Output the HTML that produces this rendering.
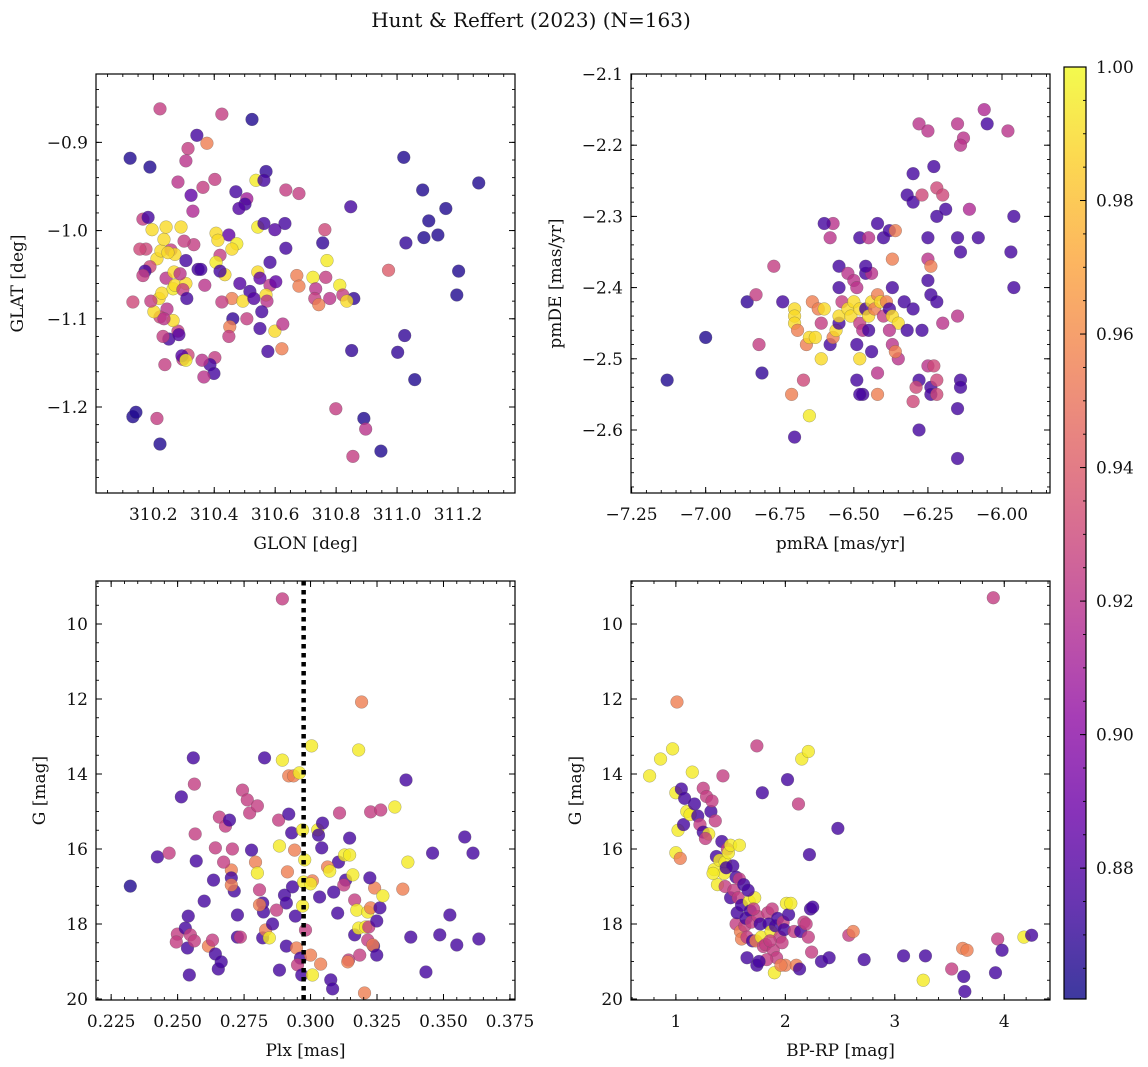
<!DOCTYPE html>
<html><head><meta charset="utf-8"><style>
html,body{margin:0;padding:0;background:#fff;}
svg{display:block;font-family:"DejaVu Serif","Liberation Serif",serif;}
</style></head><body>
<svg id="fig" width="1148" height="1067" viewBox="0 0 1148 1067" xmlns="http://www.w3.org/2000/svg">
<text x="531" y="27" text-anchor="middle" font-size="20" fill="#111">Hunt &amp; Reffert (2023) (N=163)</text>
</svg>
<script>
// ---- Panel 1: GLON vs GLAT ----
const p1x=[310.124,310.222,310.425,310.524,310.376,310.314,310.343,310.189,310.307,310.402,310.363,310.330,310.281,310.324,310.471,310.537,310.507,310.501,310.570,310.563,310.635,310.678,310.756,310.848,310.763,310.632,310.635,310.543,310.563,310.599,310.481,310.448,310.406,310.412,310.474,310.458,310.419,310.435,310.458,310.461,310.507,310.484,310.517,310.494,310.530,310.543,310.550,310.583,310.583,310.602,310.671,310.678,310.724,310.770,310.766,310.812,310.822,310.858,310.835,310.733,310.730,310.743,310.779,310.570,310.573,310.599,310.622,310.550,310.576,310.625,310.556,310.451,310.448,310.402,310.386,310.399,310.360,310.366,310.314,310.297,310.281,310.265,310.245,310.251,310.284,310.294,310.307,310.219,310.228,310.265,310.242,310.268,310.271,310.307,310.297,310.310,310.288,310.222,310.202,310.235,310.232,310.192,310.212,310.189,310.176,310.156,310.225,310.258,310.271,310.196,310.235,310.248,310.173,310.166,310.242,310.291,310.333,310.301,310.347,310.356,310.307,310.369,310.406,310.419,310.425,310.238,310.166,310.183,310.133,310.133,310.143,310.212,310.222,310.799,310.851,310.855,310.891,310.897,310.947,311.002,311.025,310.972,311.029,311.088,311.104,311.134,311.160,311.196,311.202,311.022,311.084,311.268,311.058];
const p1y=[-0.918,-0.862,-0.868,-0.874,-0.901,-0.907,-0.892,-0.928,-0.921,-0.942,-0.951,-0.978,-0.945,-0.960,-0.956,-0.943,-0.964,-0.970,-0.933,-0.943,-0.954,-0.958,-1.014,-0.973,-0.999,-0.992,-1.020,-0.996,-0.992,-0.999,-0.975,-1.005,-1.003,-1.011,-1.015,-1.021,-1.028,-1.050,-1.077,-1.100,-1.100,-1.060,-1.069,-1.080,-1.077,-1.047,-1.054,-1.036,-1.062,-1.058,-1.051,-1.063,-1.053,-1.034,-1.053,-1.062,-1.073,-1.077,-1.080,-1.066,-1.077,-1.084,-1.077,-1.073,-1.080,-1.114,-1.134,-1.111,-1.137,-1.106,-1.092,-1.109,-1.120,-1.144,-1.152,-1.162,-1.147,-1.166,-1.141,-1.146,-1.114,-1.102,-1.089,-1.123,-1.118,-1.142,-1.147,-1.077,-1.071,-1.066,-1.054,-1.047,-1.062,-1.060,-1.067,-1.077,-1.049,-1.098,-1.092,-1.100,-1.120,-1.080,-1.032,-1.041,-1.021,-1.021,-1.023,-1.022,-1.027,-0.999,-1.010,-1.025,-1.046,-1.051,-0.996,-0.996,-1.016,-1.012,-1.044,-1.044,-1.034,-1.062,-1.036,-1.046,-1.081,-1.152,-0.987,-0.985,-1.081,-1.211,-1.206,-1.213,-1.242,-1.202,-1.136,-1.256,-1.213,-1.225,-1.250,-1.138,-1.119,-1.045,-1.014,-1.008,-0.989,-1.005,-0.975,-1.073,-1.046,-0.917,-0.954,-0.946,-1.169];
const p1c=[0.865,0.925,0.925,0.865,0.955,0.925,0.875,0.865,0.92,0.925,0.925,0.915,0.92,0.885,0.875,0.995,0.91,0.875,0.87,0.875,0.925,0.925,0.87,0.875,0.93,0.875,0.875,0.995,0.875,0.88,0.88,0.885,0.99,0.99,0.995,0.99,0.925,0.99,0.955,0.87,0.925,0.88,0.875,0.99,0.88,0.99,0.885,0.875,0.92,0.885,0.955,0.955,0.995,0.995,0.925,0.995,0.925,0.87,0.99,0.92,0.925,0.955,0.92,0.99,0.92,0.99,0.955,0.875,0.875,0.92,0.875,0.955,0.925,0.925,0.875,0.875,0.92,0.92,0.93,0.925,0.925,0.99,0.92,0.875,0.88,0.88,0.995,0.99,0.99,0.995,0.92,0.99,0.99,0.99,0.925,0.875,0.92,0.93,0.99,0.92,0.925,0.925,0.99,0.93,0.93,0.93,0.99,0.925,0.99,0.99,0.99,0.99,0.875,0.925,0.99,0.99,0.925,0.925,0.875,0.875,0.875,0.92,0.995,0.875,0.925,0.925,0.925,0.875,0.93,0.865,0.865,0.925,0.865,0.925,0.87,0.925,0.865,0.92,0.865,0.87,0.87,0.94,0.87,0.865,0.865,0.865,0.865,0.865,0.865,0.865,0.865,0.865,0.865];
const p1xTicks=[310.2,310.4,310.6,310.8,311.0,311.2];
const p1xLabels=["310.2","310.4","310.6","310.8","311.0","311.2"];
const p1yTicks=[-0.9,-1.0,-1.1,-1.2];
const p1yLabels=["\u22120.9","\u22121.0","\u22121.1","\u22121.2"];

// ---- Panel 2: pmRA vs pmDE ----
const p2x=[-7.13,-7.00,-6.86,-6.83,-6.82,-6.81,-6.77,-6.74,-6.71,-6.70,-6.65,-6.67,-6.70,-6.70,-6.70,-6.69,-6.66,-6.65,-6.63,-6.64,-6.62,-6.61,-6.60,-6.61,-6.58,-6.57,-6.56,-6.55,-6.55,-6.54,-6.52,-6.51,-6.50,-6.48,-6.48,-6.46,-6.45,-6.44,-6.43,-6.42,-6.41,-6.40,-6.39,-6.38,-6.37,-6.37,-6.35,-6.58,-6.57,-6.55,-6.55,-6.52,-6.50,-6.49,-6.46,-6.44,-6.46,-6.49,-6.48,-6.47,-6.45,-6.44,-6.42,-6.49,-6.47,-6.42,-6.37,-6.35,-6.36,-6.38,-6.37,-6.48,-6.45,-6.42,-6.40,-6.38,-6.36,-6.32,-6.30,-6.30,-6.28,-6.27,-6.25,-6.25,-6.24,-6.25,-6.24,-6.22,-6.32,-6.28,-6.30,-6.29,-6.25,-6.23,-6.24,-6.22,-6.24,-6.22,-6.28,-6.25,-6.23,-6.22,-6.20,-6.22,-6.19,-6.20,-6.15,-6.13,-6.14,-6.11,-6.06,-6.05,-5.98,-5.96,-5.97,-5.96,-6.08,-6.15,-6.14,-6.15,-6.14,-6.14,-6.15,-6.15,-6.27,-6.30,-6.33,-6.48,-6.60];
const p2y=[-2.53,-2.47,-2.42,-2.41,-2.48,-2.52,-2.37,-2.42,-2.55,-2.61,-2.58,-2.53,-2.43,-2.44,-2.45,-2.46,-2.48,-2.47,-2.47,-2.42,-2.43,-2.45,-2.43,-2.50,-2.48,-2.47,-2.46,-2.45,-2.44,-2.42,-2.43,-2.44,-2.42,-2.43,-2.45,-2.43,-2.44,-2.42,-2.43,-2.41,-2.42,-2.44,-2.42,-2.43,-2.44,-2.40,-2.45,-2.33,-2.31,-2.37,-2.40,-2.38,-2.39,-2.40,-2.38,-2.38,-2.37,-2.48,-2.50,-2.46,-2.46,-2.49,-2.52,-2.53,-2.55,-2.55,-2.48,-2.50,-2.49,-2.46,-2.36,-2.33,-2.33,-2.31,-2.33,-2.32,-2.32,-2.27,-2.24,-2.28,-2.17,-2.27,-2.33,-2.36,-2.37,-2.39,-2.41,-2.42,-2.46,-2.53,-2.56,-2.54,-2.51,-2.51,-2.54,-2.53,-2.55,-2.55,-2.60,-2.18,-2.23,-2.26,-2.27,-2.30,-2.29,-2.45,-2.17,-2.19,-2.20,-2.29,-2.15,-2.17,-2.18,-2.30,-2.35,-2.40,-2.33,-2.33,-2.35,-2.44,-2.53,-2.54,-2.57,-2.64,-2.46,-2.43,-2.42,-2.55,-2.31];
const p2c=[0.865,0.865,0.87,0.925,0.925,0.87,0.925,0.875,0.955,0.875,0.995,0.93,0.99,0.99,0.99,0.955,0.955,0.99,0.99,0.955,0.955,0.925,0.99,0.99,0.875,0.955,0.99,0.875,0.99,0.925,0.99,0.99,0.99,0.99,0.925,0.875,0.99,0.99,0.955,0.955,0.99,0.925,0.955,0.875,0.99,0.875,0.99,0.92,0.92,0.875,0.875,0.92,0.92,0.92,0.875,0.92,0.875,0.875,0.99,0.92,0.875,0.875,0.92,0.875,0.875,0.955,0.92,0.92,0.955,0.92,0.955,0.875,0.92,0.875,0.875,0.875,0.955,0.875,0.875,0.875,0.92,0.93,0.875,0.92,0.955,0.875,0.875,0.875,0.875,0.875,0.93,0.93,0.92,0.93,0.875,0.93,0.875,0.93,0.875,0.92,0.875,0.93,0.93,0.875,0.875,0.92,0.92,0.92,0.92,0.915,0.915,0.875,0.92,0.875,0.875,0.875,0.875,0.875,0.875,0.92,0.875,0.875,0.875,0.875,0.875,0.875,0.875,0.875,0.875];
const p2xTicks=[-7.25,-7.00,-6.75,-6.50,-6.25,-6.00];
const p2xLabels=["\u22127.25","\u22127.00","\u22126.75","\u22126.50","\u22126.25","\u22126.00"];
const p2yTicks=[-2.1,-2.2,-2.3,-2.4,-2.5,-2.6];
const p2yLabels=["\u22122.1","\u22122.2","\u22122.3","\u22122.4","\u22122.5","\u22122.6"];

// ---- Panel 3: Plx vs G ----
const p3x=[0.2322,0.2424,0.2468,0.2514,0.2559,0.2563,0.2499,0.2495,0.2540,0.2529,0.2548,0.2537,0.2563,0.2544,0.2566,0.2570,0.2600,0.2616,0.2631,0.2642,0.2653,0.2664,0.2635,0.2642,0.2657,0.2680,0.2695,0.2706,0.2702,0.2702,0.2713,0.2725,0.2725,0.2736,0.2744,0.2762,0.2771,0.2800,0.2778,0.2793,0.2800,0.2808,0.2820,0.2823,0.2820,0.2831,0.2845,0.2857,0.2827,0.2894,0.2918,0.2936,0.2958,0.3004,0.3192,0.3181,0.2880,0.2918,0.2929,0.2883,0.2940,0.2913,0.2932,0.2902,0.2909,0.2943,0.2909,0.2883,0.2947,0.2962,0.2951,0.2967,0.2981,0.2970,0.2974,0.2978,0.2970,0.3027,0.3030,0.3007,0.3000,0.3034,0.3000,0.3007,0.3038,0.3076,0.3083,0.3105,0.3128,0.3132,0.3147,0.3125,0.3147,0.3159,0.3102,0.3166,0.3174,0.3166,0.3181,0.3207,0.3185,0.3143,0.3140,0.3203,0.3215,0.3226,0.3219,0.3237,0.3215,0.3234,0.3241,0.3249,0.3249,0.3261,0.3272,0.3223,0.3226,0.3264,0.3317,0.3359,0.3366,0.3347,0.3377,0.3434,0.3459,0.3486,0.3524,0.3550,0.3580,0.3611,0.3633,0.3109,0.3045,0.3042,0.3064,0.3072,0.3087,0.2673,0.2808,0.2872,0.2702,0.2894];
const p3y=[16.99,16.21,16.11,14.61,13.57,14.27,18.27,18.48,17.79,18.11,18.29,18.64,18.45,19.36,15.60,16.32,17.39,18.59,18.43,18.80,19.20,19.01,16.83,15.97,15.15,15.39,15.23,16.00,16.56,16.77,17.12,17.76,18.35,18.35,14.43,14.69,15.04,14.85,16.03,16.35,16.64,17.09,17.44,17.68,18.37,18.16,18.37,18.00,13.57,13.63,14.05,14.05,13.97,13.25,12.08,13.36,15.23,15.07,15.57,15.92,16.03,16.61,17.01,17.23,17.44,17.79,18.59,19.23,18.64,18.91,19.09,19.36,18.16,17.52,16.88,16.29,15.49,15.49,15.63,16.85,16.93,17.28,18.83,19.36,19.07,19.49,19.73,16.35,16.16,16.83,15.71,16.96,16.16,16.69,17.71,17.36,17.63,18.29,18.11,18.08,18.83,18.96,19.01,19.84,17.68,17.57,18.08,18.59,18.43,18.56,17.04,17.92,18.83,17.57,17.25,16.77,15.01,14.96,14.88,14.16,16.35,17.07,18.35,19.28,16.11,18.29,17.76,18.56,15.68,16.11,18.40,15.04,15.31,15.97,16.48,16.59,17.15,16.35,17.49,17.63,16.96,9.33];
const p3c=[0.865,0.875,0.925,0.875,0.875,0.925,0.925,0.925,0.875,0.875,0.925,0.875,0.925,0.875,0.925,0.875,0.875,0.955,0.925,0.875,0.875,0.875,0.875,0.925,0.925,0.925,0.875,0.925,0.955,0.875,0.875,0.875,0.875,0.925,0.925,0.925,0.925,0.925,0.875,0.955,0.995,0.925,0.875,0.875,0.875,0.955,0.995,0.875,0.875,0.995,0.955,0.955,0.995,0.995,0.955,0.995,0.925,0.875,0.875,0.995,0.955,0.955,0.875,0.875,0.875,0.875,0.875,0.875,0.955,0.875,0.925,0.875,0.925,0.995,0.995,0.995,0.995,0.995,0.875,0.955,0.995,0.875,0.955,0.995,0.955,0.875,0.875,0.875,0.995,0.875,0.875,0.925,0.995,0.995,0.875,0.925,0.995,0.875,0.995,0.995,0.925,0.925,0.955,0.955,0.995,0.955,0.925,0.875,0.925,0.955,0.955,0.875,0.875,0.875,0.995,0.875,0.925,0.925,0.995,0.875,0.995,0.955,0.875,0.875,0.875,0.875,0.875,0.875,0.875,0.875,0.875,0.925,0.875,0.875,0.955,0.995,0.875,0.925,0.955,0.925,0.955,0.925];
const p3xTicks=[0.225,0.250,0.275,0.300,0.325,0.350,0.375];
const p3xLabels=["0.225","0.250","0.275","0.300","0.325","0.350","0.375"];
const p3yTicks=[10,12,14,16,18,20];
const p3yLabels=["10","12","14","16","18","20"];
const p3vline=[0.2974];

// ---- Panel 4: BP-RP vs G ----
const p4x=[0.76,0.86,0.97,1.01,1.00,1.02,1.00,1.04,1.05,1.07,1.08,1.10,1.13,1.15,1.17,1.20,1.22,1.25,1.25,1.28,1.30,1.27,1.32,1.33,1.36,1.37,1.35,1.38,1.40,1.42,1.43,1.45,1.45,1.47,1.48,1.50,1.50,1.52,1.53,1.55,1.55,1.56,1.57,1.58,1.59,1.60,1.60,1.62,1.63,1.64,1.65,1.65,1.67,1.68,1.69,1.70,1.72,1.73,1.74,1.74,1.75,1.77,1.78,1.79,1.80,1.82,1.84,1.85,1.87,1.88,1.89,1.90,1.91,1.93,1.95,1.97,1.98,1.99,2.00,2.01,2.03,2.05,2.08,2.10,2.12,2.14,2.15,2.17,2.19,2.21,2.21,2.22,2.23,2.24,2.25,2.33,2.40,2.48,2.58,2.62,2.72,3.08,3.26,3.28,3.52,3.62,3.66,3.63,3.64,3.90,3.92,3.94,3.98,4.18,4.25,2.02,1.92,1.83,1.76,1.44,1.34,1.58,1.46,1.66,1.71,1.86,1.96,2.13];
const p4y=[14.05,13.60,13.33,12.08,14.50,15.50,16.10,16.25,14.40,15.35,14.65,15.00,15.08,13.95,14.80,15.12,15.35,15.55,14.38,14.60,15.60,15.72,15.00,14.72,15.25,16.20,16.55,16.95,16.30,15.80,14.05,16.35,17.00,16.00,16.10,15.90,17.30,16.45,17.10,16.75,18.00,17.70,17.30,16.80,18.20,18.40,17.50,16.95,18.05,17.85,18.35,18.90,17.40,17.65,17.95,18.45,17.30,18.45,19.10,13.25,17.80,18.00,18.35,14.50,18.60,18.55,17.70,18.00,18.20,17.60,18.70,19.30,18.05,17.85,18.35,18.50,17.95,18.15,19.10,17.45,17.75,17.45,18.20,19.10,14.80,18.20,13.60,17.95,18.00,13.40,18.35,16.15,17.60,18.75,17.55,19.00,18.90,15.45,18.30,18.20,18.95,18.85,19.50,18.85,19.20,18.65,18.70,19.40,19.80,9.30,19.30,18.40,18.70,18.35,18.30,14.15,18.90,18.95,19.00,16.65,16.65,15.90,16.50,17.10,17.60,18.45,19.10,19.20];
const p4c=[0.995,0.995,0.995,0.955,0.995,0.995,0.995,0.955,0.875,0.875,0.875,0.995,0.995,0.995,0.875,0.875,0.925,0.875,0.925,0.925,0.995,0.925,0.875,0.925,0.925,0.875,0.995,0.995,0.995,0.875,0.925,0.995,0.925,0.925,0.995,0.995,0.875,0.875,0.925,0.875,0.925,0.875,0.925,0.925,0.955,0.955,0.875,0.875,0.925,0.875,0.925,0.875,0.995,0.875,0.925,0.875,0.995,0.955,0.875,0.925,0.925,0.875,0.995,0.875,0.925,0.925,0.925,0.875,0.995,0.925,0.925,0.995,0.875,0.875,0.925,0.925,0.925,0.875,0.955,0.995,0.875,0.995,0.925,0.955,0.925,0.875,0.995,0.925,0.925,0.995,0.925,0.875,0.875,0.925,0.875,0.875,0.875,0.875,0.925,0.955,0.875,0.875,0.995,0.875,0.925,0.955,0.955,0.875,0.875,0.925,0.875,0.925,0.875,0.995,0.875,0.875,0.925,0.925,0.875,0.995,0.995,0.995,0.875,0.875,0.925,0.925,0.955,0.875];
const p4xTicks=[1,2,3,4];
const p4xLabels=["1","2","3","4"];
const p4yTicks=[10,12,14,16,18,20];
const p4yLabels=["10","12","14","16","18","20"];

// ---- Colorbar ----
const cbTicks=[0.88,0.90,0.92,0.94,0.96,0.98,1.00];
const cbLabels=["0.88","0.90","0.92","0.94","0.96","0.98","1.00"];
const cbMin=0.8604, cbMax=1.0;

const NS="http://www.w3.org/2000/svg";
const svg=document.getElementById('fig');
const FS=17;
const stops=["#0d0887","#41049d","#6a00a8","#8f0da4","#b12a90","#cc4778","#e16462","#f2844b","#fca636","#fcce25","#f0f921"];
function hex(h){return [parseInt(h.substr(1,2),16),parseInt(h.substr(3,2),16),parseInt(h.substr(5,2),16)];}
function plasma(t){t=Math.max(0,Math.min(1,t));const s=t*10,i=Math.min(9,Math.floor(s)),f=s-i;const a=hex(stops[i]),b=hex(stops[i+1]);return 'rgb('+a.map((v,k)=>Math.round(v+(b[k]-v)*f)).join(',')+')';}
function el(tag,attrs,parent){const e=document.createElementNS(NS,tag);for(const k in attrs)e.setAttribute(k,attrs[k]);(parent||svg).appendChild(e);return e;}
function ticksRange(a,b,step){const out=[];const s=Math.ceil(Math.min(a,b)/step-1e-6);for(let i=s;i*step<=Math.max(a,b)+1e-9;i++)out.push(i*step);return out;}

function panel(cfg){
  const g=el('g',{});
  
  
  const X=v=>cfg.L+(v-cfg.x0)/(cfg.x1-cfg.x0)*(cfg.R-cfg.L);
  const Y=v=>cfg.T+(v-cfg.y0)/(cfg.y1-cfg.y0)*(cfg.B-cfg.T);
  const clip='clip-'+cfg.name;
  const cp=el('clipPath',{id:clip},g);el('rect',{x:cfg.L,y:cfg.T,width:cfg.R-cfg.L,height:cfg.B-cfg.T},cp);
  const pts=el('g',{'clip-path':'url(#'+clip+')'},g);
  
  
  for(let i=0;i<cfg.xs.length;i++){
    const c=el('circle',{cx:X(cfg.xs[i]),cy:Y(cfg.ys[i]),r:6.4,fill:plasma((cfg.cs[i]-cbMin)/(cbMax-cbMin)),'fill-opacity':0.8,stroke:'#555','stroke-opacity':0.5,'stroke-width':0.5},pts);
    
    
  }
  if(cfg.vline){for(const v of cfg.vline){const l=el('line',{x1:X(v),x2:X(v),y1:cfg.T,y2:cfg.B,stroke:'#000','stroke-width':4.5,'stroke-dasharray':'4.5,4.5'},g);
    
    }}
  const fr=el('rect',{x:cfg.L,y:cfg.T,width:cfg.R-cfg.L,height:cfg.B-cfg.T,fill:'none',stroke:'#000','stroke-width':1.2},g);
  
  
  for(const v of ticksRange(cfg.x0,cfg.x1,cfg.xminor)){const x=X(v);el('line',{x1:x,x2:x,y1:cfg.B,y2:cfg.B-3,stroke:'#000','stroke-width':0.9},g);el('line',{x1:x,x2:x,y1:cfg.T,y2:cfg.T+3,stroke:'#000','stroke-width':0.9},g);}
  for(const v of ticksRange(cfg.y0,cfg.y1,cfg.yminor)){const y=Y(v);el('line',{x1:cfg.L,x2:cfg.L+3,y1:y,y2:y,stroke:'#000','stroke-width':0.9},g);el('line',{x1:cfg.R,x2:cfg.R-3,y1:y,y2:y,stroke:'#000','stroke-width':0.9},g);}
  cfg.xt.forEach((v,i)=>{const x=X(v);el('line',{x1:x,x2:x,y1:cfg.B,y2:cfg.B-6,stroke:'#000','stroke-width':1},g);el('line',{x1:x,x2:x,y1:cfg.T,y2:cfg.T+6,stroke:'#000','stroke-width':1},g);
    const t=el('text',{x:x,y:cfg.B+27,'text-anchor':'middle','font-size':FS,fill:'#111'},g);t.textContent=cfg.xl[i];
    
    });
  cfg.yt.forEach((v,i)=>{const y=Y(v);el('line',{x1:cfg.L,x2:cfg.L+6,y1:y,y2:y,stroke:'#000','stroke-width':1},g);el('line',{x1:cfg.R,x2:cfg.R-6,y1:y,y2:y,stroke:'#000','stroke-width':1},g);
    const t=el('text',{x:cfg.L-8,y:y+6,'text-anchor':'end','font-size':FS,fill:'#111'},g);t.textContent=cfg.yl[i];
    
    });
  const xt=el('text',{x:(cfg.L+cfg.R)/2,y:cfg.B+56,'text-anchor':'middle','font-size':FS,fill:'#111'},g);xt.textContent=cfg.xlabel;
  
  
  const yx=cfg.ylabx, yy=(cfg.T+cfg.B)/2;
  const yt=el('text',{x:yx,y:yy,'text-anchor':'middle','font-size':FS,fill:'#111',transform:'rotate(-90 '+yx+' '+yy+')'},g);yt.textContent=cfg.ylabel;
  
  
}

panel({name:'panel-glon-glat',L:96,R:515,T:74,B:493,x0:310.012,x1:311.387,y0:-0.8225,y1:-1.2975,xs:p1x,ys:p1y,cs:p1c,xt:p1xTicks,xl:p1xLabels,yt:p1yTicks,yl:p1yLabels,xminor:0.05,yminor:0.02,xlabel:'GLON [deg]',ylabel:'GLAT [deg]',ylabx:23});
panel({name:'panel-pm',L:631,R:1050,T:74,B:493,x0:-7.252,x1:-5.838,y0:-2.1,y1:-2.6885,xs:p2x,ys:p2y,cs:p2c,xt:p2xTicks,xl:p2xLabels,yt:p2yTicks,yl:p2yLabels,xminor:0.05,yminor:0.02,xlabel:'pmRA [mas/yr]',ylabel:'pmDE [mas/yr]',ylabx:561});
panel({name:'panel-plx-g',L:96,R:515,T:581,B:1000,x0:0.2193,x1:0.3769,y0:8.853,y1:20.027,xs:p3x,ys:p3y,cs:p3c,xt:p3xTicks,xl:p3xLabels,yt:p3yTicks,yl:p3yLabels,xminor:0.005,yminor:0.5,xlabel:'Plx [mas]',ylabel:'G [mag]',ylabx:45,vline:p3vline});
panel({name:'panel-cmd',L:631,R:1050,T:581,B:1000,x0:0.59,x1:4.418,y0:8.853,y1:20.027,xs:p4x,ys:p4y,cs:p4c,xt:p4xTicks,xl:p4xLabels,yt:p4yTicks,yl:p4yLabels,xminor:0.2,yminor:0.5,xlabel:'BP-RP [mag]',ylabel:'G [mag]',ylabx:581});

(function(){
  const L=1064,R=1086,T=67,B=999;
  const g=el('g',{});
  
  
  const defs=el('defs',{},g);
  const lg=el('linearGradient',{id:'cbgrad',x1:0,y1:1,x2:0,y2:0},defs);
  for(let i=0;i<=20;i++){el('stop',{offset:(i/20),'stop-color':plasma(i/20)},lg);}
  el('rect',{x:L,y:T,width:R-L,height:B-T,fill:'url(#cbgrad)','fill-opacity':0.8},g);
  el('rect',{x:L,y:T,width:R-L,height:B-T,fill:'none',stroke:'#000','stroke-width':1.2},g);
  const Y=v=>B-(v-cbMin)/(cbMax-cbMin)*(B-T);
  for(const v of ticksRange(cbMin,cbMax,0.005)){const y=Y(v);el('line',{x1:R,x2:R-3,y1:y,y2:y,stroke:'#000','stroke-width':0.9},g);}
  cbTicks.forEach((v,i)=>{const y=Y(v);el('line',{x1:R,x2:R-6,y1:y,y2:y,stroke:'#000','stroke-width':1},g);
    const t=el('text',{x:R+10,y:y+6,'font-size':FS,fill:'#111'},g);t.textContent=cbLabels[i];
    
    });
})();
</script>
</body></html>
